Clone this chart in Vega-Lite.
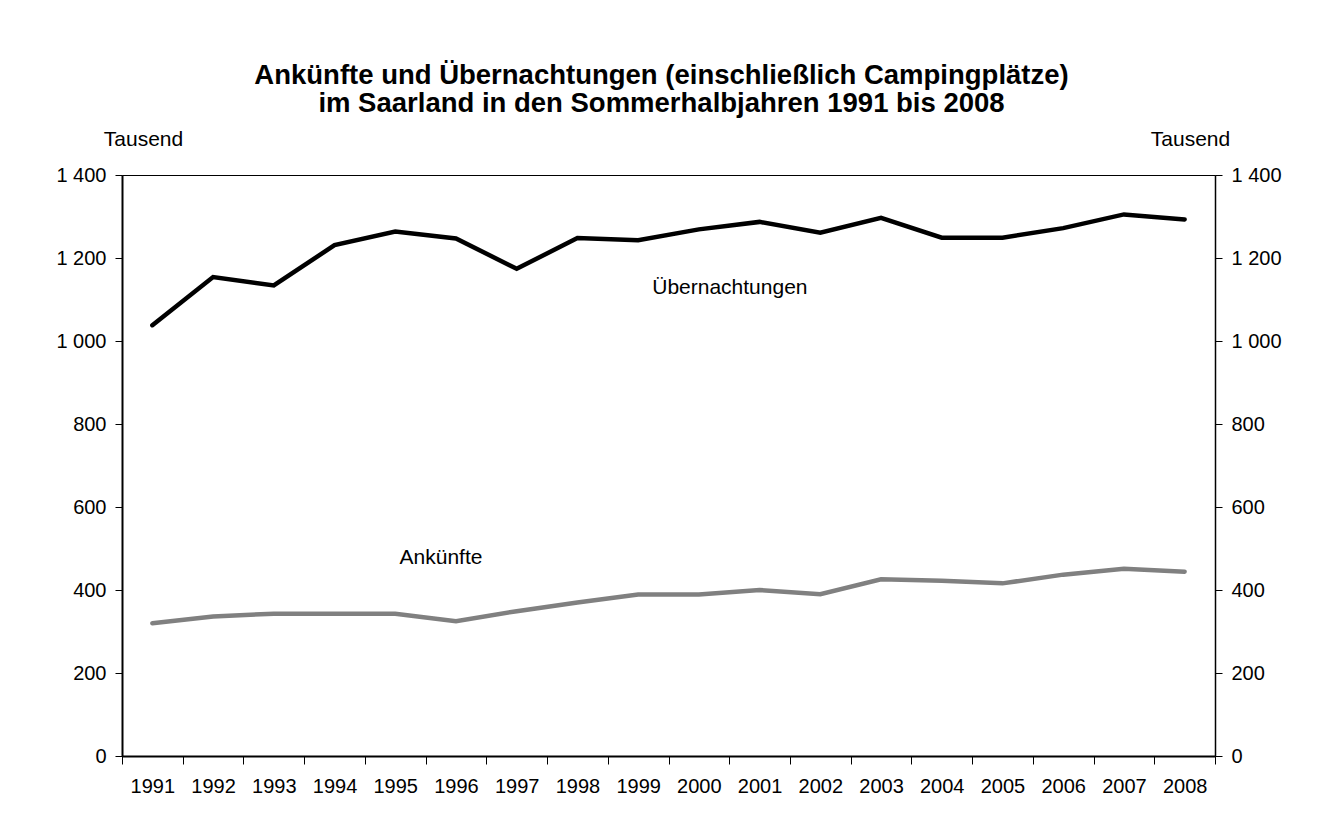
{
  "$schema": "https://vega.github.io/schema/vega-lite/v6.json",
  "width": 1093,
  "height": 581,
  "autosize": {"type": "none"},
  "padding": {"left": 122, "top": 175, "right": 103, "bottom": 73},
  "background": "white",
  "title": {
    "text": ["Ankünfte und Übernachtungen (einschließlich Campingplätze)", "im Saarland in den Sommerhalbjahren 1991 bis 2008"],
    "font": "Liberation Sans",
    "fontSize": 27.5,
    "fontWeight": "bold",
    "color": "black",
    "anchor": "middle",
    "frame": "group",
    "lineHeight": 28,
    "offset": 11,
    "dx": -7
  },
  "config": {
    "view": {"stroke": "black", "strokeWidth": 1},
    "font": "Liberation Sans",
    "axis": {
      "labelFont": "Liberation Sans",
      "labelFontSize": 20,
      "labelColor": "black",
      "domainColor": "black",
      "domainWidth": 1.5,
      "tickColor": "black",
      "tickWidth": 1,
      "grid": false,
      "titleFont": "Liberation Sans",
      "titleFontSize": 21,
      "titleFontWeight": "normal",
      "titleColor": "black"
    }
  },
  "datasets": {
    "series": [
      {"Reihe": "Übernachtungen", "Jahr": "1991", "Wert": 1038},
      {"Reihe": "Übernachtungen", "Jahr": "1992", "Wert": 1154},
      {"Reihe": "Übernachtungen", "Jahr": "1993", "Wert": 1134},
      {"Reihe": "Übernachtungen", "Jahr": "1994", "Wert": 1231},
      {"Reihe": "Übernachtungen", "Jahr": "1995", "Wert": 1264},
      {"Reihe": "Übernachtungen", "Jahr": "1996", "Wert": 1247},
      {"Reihe": "Übernachtungen", "Jahr": "1997", "Wert": 1174},
      {"Reihe": "Übernachtungen", "Jahr": "1998", "Wert": 1248},
      {"Reihe": "Übernachtungen", "Jahr": "1999", "Wert": 1243},
      {"Reihe": "Übernachtungen", "Jahr": "2000", "Wert": 1269},
      {"Reihe": "Übernachtungen", "Jahr": "2001", "Wert": 1287},
      {"Reihe": "Übernachtungen", "Jahr": "2002", "Wert": 1261},
      {"Reihe": "Übernachtungen", "Jahr": "2003", "Wert": 1297},
      {"Reihe": "Übernachtungen", "Jahr": "2004", "Wert": 1249},
      {"Reihe": "Übernachtungen", "Jahr": "2005", "Wert": 1249},
      {"Reihe": "Übernachtungen", "Jahr": "2006", "Wert": 1272},
      {"Reihe": "Übernachtungen", "Jahr": "2007", "Wert": 1305},
      {"Reihe": "Übernachtungen", "Jahr": "2008", "Wert": 1293},
      {"Reihe": "Ankünfte", "Jahr": "1991", "Wert": 320},
      {"Reihe": "Ankünfte", "Jahr": "1992", "Wert": 336},
      {"Reihe": "Ankünfte", "Jahr": "1993", "Wert": 343},
      {"Reihe": "Ankünfte", "Jahr": "1994", "Wert": 343},
      {"Reihe": "Ankünfte", "Jahr": "1995", "Wert": 343},
      {"Reihe": "Ankünfte", "Jahr": "1996", "Wert": 325},
      {"Reihe": "Ankünfte", "Jahr": "1997", "Wert": 349},
      {"Reihe": "Ankünfte", "Jahr": "1998", "Wert": 370},
      {"Reihe": "Ankünfte", "Jahr": "1999", "Wert": 389},
      {"Reihe": "Ankünfte", "Jahr": "2000", "Wert": 389},
      {"Reihe": "Ankünfte", "Jahr": "2001", "Wert": 400},
      {"Reihe": "Ankünfte", "Jahr": "2002", "Wert": 390},
      {"Reihe": "Ankünfte", "Jahr": "2003", "Wert": 426},
      {"Reihe": "Ankünfte", "Jahr": "2004", "Wert": 422},
      {"Reihe": "Ankünfte", "Jahr": "2005", "Wert": 416},
      {"Reihe": "Ankünfte", "Jahr": "2006", "Wert": 437},
      {"Reihe": "Ankünfte", "Jahr": "2007", "Wert": 451},
      {"Reihe": "Ankünfte", "Jahr": "2008", "Wert": 444}
    ],
    "labels": [
      {"Reihe": "Übernachtungen", "Jahr": "2000", "Wert": 1127},
      {"Reihe": "Ankünfte", "Jahr": "1996", "Wert": 477}
    ]
  },
  "layer": [
    {
      "data": {"name": "series"},
      "mark": {"type": "line", "strokeWidth": 4.5, "strokeJoin": "miter", "strokeCap": "round"},
      "encoding": {
        "x": {
          "field": "Jahr",
          "type": "ordinal",
          "bandPosition": 0.5,
          "scale": {"type": "band", "paddingInner": 0, "paddingOuter": 0},
          "axis": {"title": null, "labelAngle": 0, "tickBand": "extent", "tickSize": 8, "labelPadding": 12, "domainWidth": 2}
        },
        "y": {
          "field": "Wert",
          "type": "quantitative",
          "scale": {"domain": [0, 1400], "nice": false},
          "axis": {
            "orient": "left",
            "values": [0, 200, 400, 600, 800, 1000, 1200, 1400],
            "labelExpr": "replace(format(datum.value, ',d'), ',', ' ')",
            "tickSize": 7,
            "labelPadding": 9,
            "domainWidth": 2,
            "title": "Tausend",
            "titleAngle": 0,
            "titleX": 21,
            "titleY": -36,
            "titleAlign": "center",
            "titleBaseline": "middle"
          }
        },
        "color": {
          "field": "Reihe",
          "type": "nominal",
          "scale": {"domain": ["Übernachtungen", "Ankünfte"], "range": ["#000000", "#808080"]},
          "legend": null
        }
      }
    },
    {
      "data": {"name": "labels"},
      "transform": [{"filter": "datum.Reihe === 'Übernachtungen'"}],
      "mark": {"type": "text", "fontSize": 21, "font": "Liberation Sans", "color": "black", "align": "center", "baseline": "middle", "dx": 31},
      "encoding": {
        "x": {"field": "Jahr", "type": "ordinal", "bandPosition": 0.5},
        "y": {
          "field": "Wert",
          "type": "quantitative",
          "axis": {
            "orient": "right",
            "values": [0, 200, 400, 600, 800, 1000, 1200, 1400],
            "labelExpr": "replace(format(datum.value, ',d'), ',', ' ')",
            "tickSize": 7,
            "labelPadding": 9,
            "domainWidth": 1.5,
            "title": "Tausend",
            "titleAngle": 0,
            "titleX": -25,
            "titleY": -36,
            "titleAlign": "center",
            "titleBaseline": "middle"
          }
        },
        "text": {"field": "Reihe"}
      }
    },
    {
      "data": {"name": "labels"},
      "transform": [{"filter": "datum.Reihe === 'Ankünfte'"}],
      "mark": {"type": "text", "fontSize": 21, "font": "Liberation Sans", "color": "black", "align": "center", "baseline": "middle", "dx": -15},
      "encoding": {
        "x": {"field": "Jahr", "type": "ordinal", "bandPosition": 0.5},
        "y": {"field": "Wert", "type": "quantitative", "axis": null},
        "text": {"field": "Reihe"}
      }
    }
  ],
  "resolve": {"axis": {"y": "independent"}}
}
